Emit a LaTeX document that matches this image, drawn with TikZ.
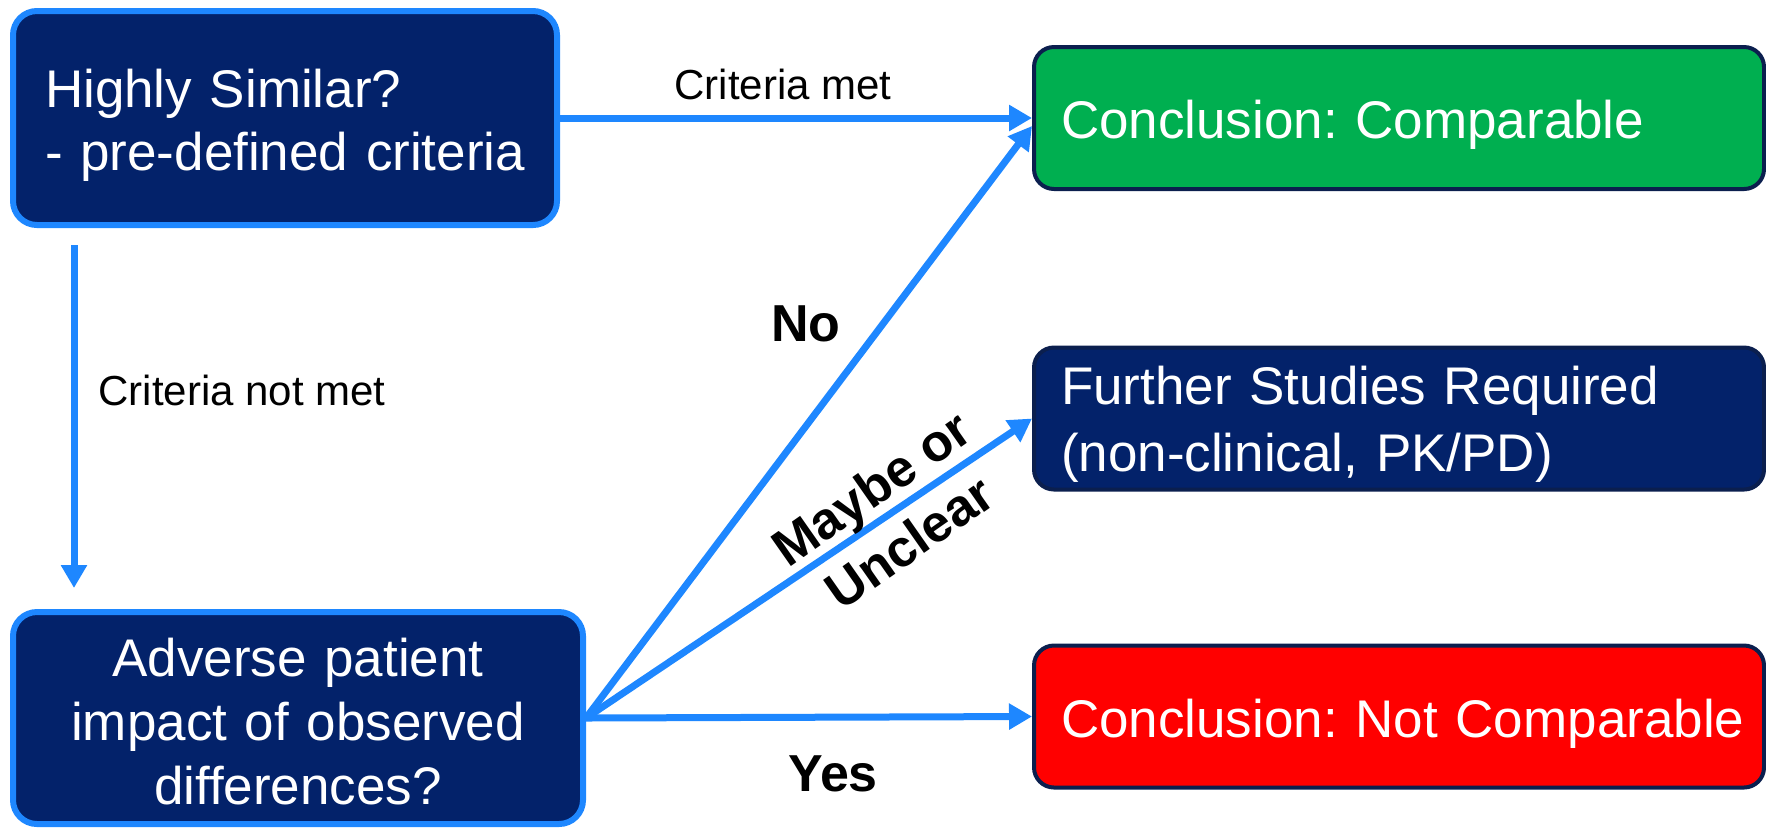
\documentclass[tikz,border=0pt]{standalone}
\usepackage{fontspec}
\setmainfont{Liberation Sans}
\frenchspacing
\usetikzlibrary{arrows.meta}
\definecolor{navy}{HTML}{03226A}
\definecolor{edgenavy}{HTML}{0B1F4E}
\definecolor{lblue}{HTML}{1E87FF}
\definecolor{cgreen}{HTML}{00AF50}
\definecolor{cred}{HTML}{FF0000}
\tikzset{
  leftbox/.style={draw=lblue, line width=3pt, fill=navy, rounded corners=12pt, inner sep=0pt},
  rightbox/.style={draw=edgenavy, line width=2pt, rounded corners=10pt, inner sep=0pt,
    minimum width=365pt, minimum height=71pt},
  boxtext/.style={text=white, inner sep=0pt, font=\fontsize{26.5pt}{31.5pt}\selectfont},
  arr/.style={draw=lblue, line width=3.5pt, -{Triangle[length=11.5pt,width=12.5pt]}},
  lbl/.style={font=\fontsize{21pt}{25pt}\selectfont, inner sep=0pt},
  blbl/.style={font=\bfseries\fontsize{26pt}{33pt}\selectfont, inner sep=0pt},
}
\begin{document}
\begin{tikzpicture}[x=0.5pt, y=-0.5pt]
\useasboundingbox (0,0) rectangle (1766,827);
% boxes
\node[leftbox, minimum width=272pt, minimum height=107pt] (sim) at (285,118) {};
\node[leftbox, minimum width=285pt, minimum height=106pt] (adv) at (298,718) {};
\node[rightbox, fill=cgreen] (comp) at (1399,118) {};
\node[rightbox, fill=navy] (fur) at (1399,418.5) {};
\node[rightbox, fill=cred] (notc) at (1399,716.5) {};
% box texts
\node[boxtext, text width=240pt, align=left] (simt) at ([yshift=-3.5pt]sim.center)
  {\mbox{Highly Similar?}\\\mbox{- pre-defined criteria}};
\node[boxtext, text width=253pt, align=center, font=\fontsize{26.5pt}{32pt}\selectfont] (advt) at ([yshift=-1.8pt]adv.center)
  {Adverse patient\\impact of observed\\differences?};
\node[boxtext, text width=338pt, align=left] (compt) at ([yshift=-3.5pt]comp.center) {\mbox{Conclusion: Comparable}};
\node[boxtext, text width=338pt, align=left, font=\fontsize{26.5pt}{33.5pt}\selectfont] (furt) at ([yshift=-3pt]fur.center)
  {\mbox{Further Studies Required}\\\mbox{(non-clinical, PK/PD)}};
\node[boxtext, text width=338pt, align=left] (notct) at ([yshift=-3.5pt]notc.center) {\mbox{Conclusion: Not Comparable}};

% connectors
\draw[arr] (sim.east) -- (comp.west);
\draw[arr, shorten <=8.5pt, shorten >=10.5pt] ([xshift=32pt]sim.south west) -- ([xshift=32pt]adv.north west);
\draw[arr] (adv.east) -- ([yshift=-4pt]comp.west);
\draw[arr] (adv.east) -- (fur.west);
\draw[arr] (adv.east) -- (notc.west);

% labels
\node[lbl] (lmet) at (783,84) {Criteria met};
\node[lbl] (lnotmet) at (242,390) {Criteria not met};
\node[blbl] (lno) at (806,324) {No};
\node[blbl] (lyes) at (833,774) {Yes};
\node[blbl, rotate=35, align=center] (lmaybe) at (890,515) {Maybe or\\Unclear};
\end{tikzpicture}
\end{document}
